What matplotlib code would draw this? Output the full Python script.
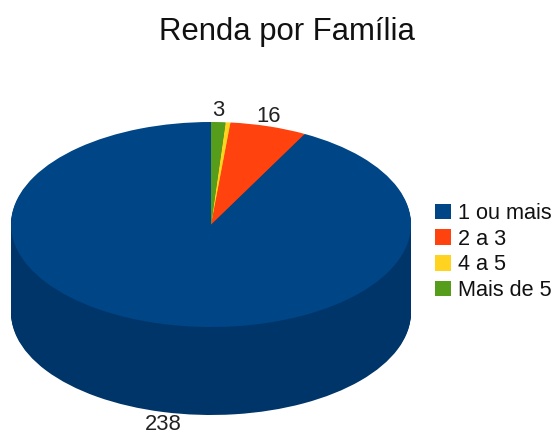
import matplotlib
matplotlib.use('Agg')
import matplotlib.pyplot as plt
import numpy as np

categories = ['1 ou mais', '2 a 3', '4 a 5', 'Mais de 5']
values = [238, 16, 1, 3]
shown_labels = ['238', '16', '', '3']
colors = ['#004586', '#ff420e', '#ffd320', '#579d1c']
side_colors = ['#00356a', '#c7340b', '#c7a418', '#447a16']

plt.rcParams['font.family'] = ['Liberation Sans', 'DejaVu Sans']

W, H = 553, 434
fig = plt.figure(figsize=(W / 100, H / 100), dpi=100)
ax = fig.add_axes([0, 0, 1, 1])

# ellipse size in pixels, pie has radius 1 so y is just squashed
cx, cy = 211, 224.5
rx, ry = 200, 102.5
depth = 88 / ry

# side wall: stacked pies from bottom up
for d in np.linspace(depth, 0.01, 90):
    ax.pie(values, colors=side_colors, startangle=90, center=(0, -d), frame=True,
           wedgeprops={'linewidth': 0})

wedges, _ = ax.pie(values, colors=colors, startangle=90, center=(0, 0), frame=True,
                   wedgeprops={'linewidth': 0})

ax.set_xlim(-cx / rx, (W - cx) / rx)
ax.set_ylim(-(H - cy) / ry, cy / ry)
ax.set_aspect('auto')
ax.axis('off')

fig.text(286.5 / W, 1 - 32 / H, 'Renda por Família', fontsize=22.4, ha='center', va='center', color='#111111')

# value labels
label_pos = {0: (163, 425), 1: (269, 117), 3: (218, 111)}
for i, (x, y) in label_pos.items():
    fig.text(x / W, 1 - y / H, shown_labels[i], fontsize=15.8, ha='center', va='center', color='#222222')

leg = fig.legend(wedges, categories, loc='center left', bbox_to_anchor=(435 / W, 1 - 252 / H),
                 frameon=False, fontsize=15.6, handlelength=0.72, handleheight=0.72,
                 handletextpad=0.32, labelspacing=0.22, borderpad=0, borderaxespad=0)
for t in leg.get_texts():
    t.set_color('#111111')

fig.savefig('out.png', dpi=100)
